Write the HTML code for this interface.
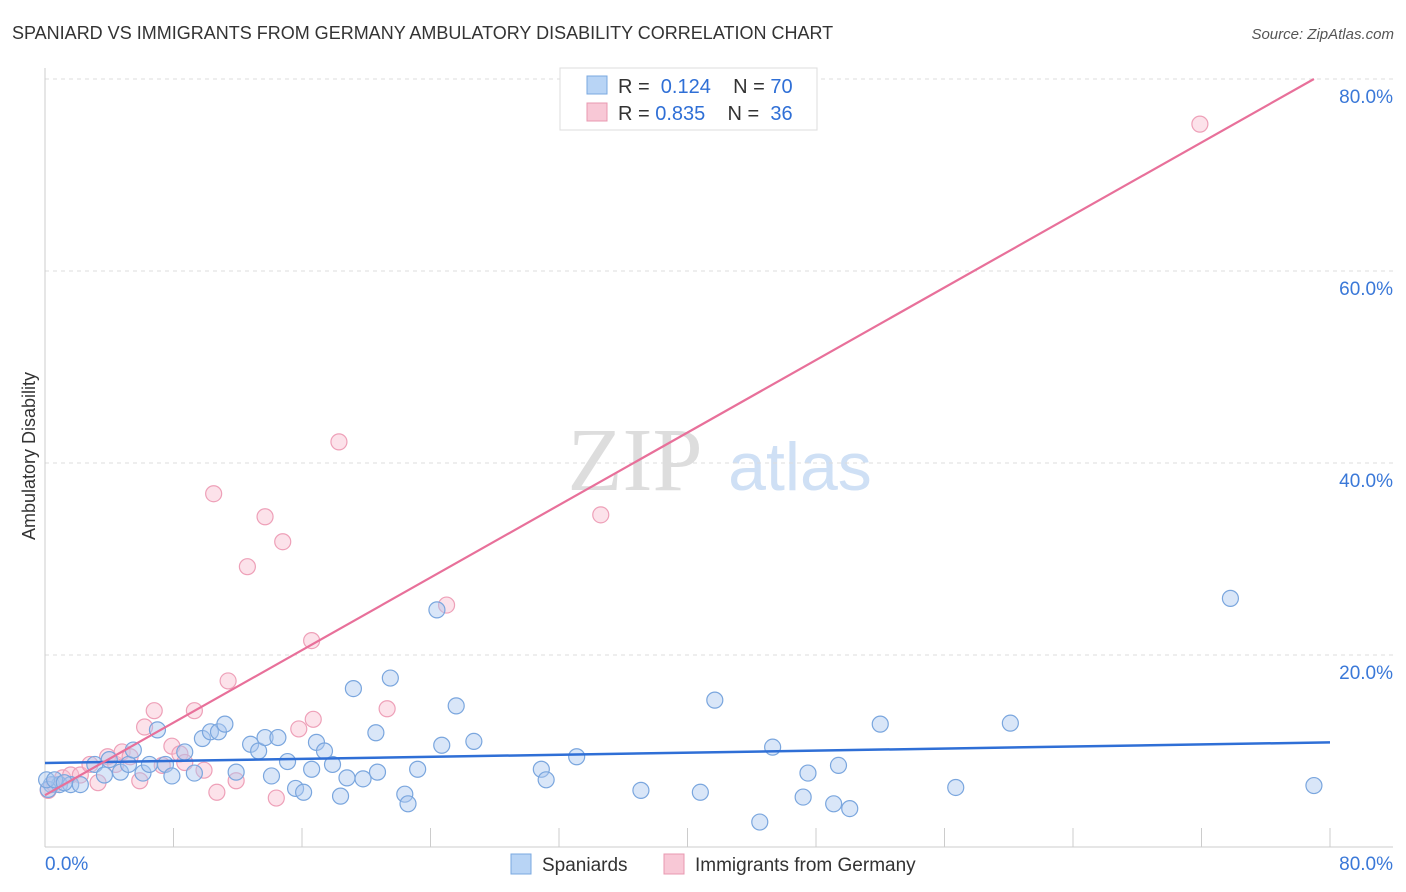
<!DOCTYPE html>
<html><head><meta charset="utf-8"><style>
body{margin:0;background:#fff;font-family:"Liberation Sans",sans-serif;}
#wrap{position:relative;width:1406px;height:892px;overflow:hidden;}
</style></head><body><div id="wrap">
<svg id="chart" width="1406" height="892" xmlns="http://www.w3.org/2000/svg">
<text x="12" y="39" font-size="18" fill="#333">SPANIARD VS IMMIGRANTS FROM GERMANY AMBULATORY DISABILITY CORRELATION CHART</text>
<text x="1394" y="39" font-size="15" fill="#555" font-style="italic" text-anchor="end">Source: ZipAtlas.com</text>
<text x="35" y="456" font-size="18" fill="#333" text-anchor="middle" transform="rotate(-90 35 456)">Ambulatory Disability</text>
<g><text x="635" y="490" font-size="90" fill="#ddd" font-family="Liberation Serif,serif" text-anchor="middle">ZIP</text><text x="800" y="490" font-size="68" fill="#cfe0f5" text-anchor="middle">atlas</text></g>
<g id="grid"></g><g id="axes"></g><g id="marks"></g>
<g>
<rect x="560" y="68" width="257" height="62" fill="#fff" stroke="#ddd"/>
<rect x="587" y="76" width="20" height="18" fill="#b8d4f5" stroke="#7aa8e0"/>
<rect x="587" y="103" width="20" height="18" fill="#f8c8d6" stroke="#e898b0"/>
<text x="618" y="93" font-size="20" fill="#333">R = <tspan fill="#2f6fd6">&#160;0.124</tspan>&#160;&#160;&#160;&#160;N = <tspan fill="#2f6fd6">70</tspan></text>
<text x="618" y="120" font-size="20" fill="#333">R = <tspan fill="#2f6fd6">0.835</tspan>&#160;&#160;&#160;&#160;N = <tspan fill="#2f6fd6">&#160;36</tspan></text>
</g>
<g>
<rect x="511" y="854" width="20" height="20" fill="#b8d4f5" stroke="#7aa8e0"/>
<text x="542" y="871" font-size="19" fill="#333">Spaniards</text>
<rect x="664" y="854" width="20" height="20" fill="#f8c8d6" stroke="#e898b0"/>
<text x="695" y="871" font-size="19" fill="#333">Immigrants from Germany</text>
</g>
</svg></div>
<script>
const blueX=[0.4,0.9,1.6,2.2,3.1,3.7,4.0,4.7,5.2,5.5,6.1,6.5,7.0,7.5,7.9,8.7,9.3,9.8,10.3,10.8,11.2,11.9,12.8,13.3,13.7,14.1,14.5,15.1,15.6,16.1,16.6,16.9,17.4,17.9,18.4,18.8,19.2,19.8,20.6,20.7,21.5,22.4,22.6,23.2,24.4,24.7,25.6,26.7,30.9,31.2,33.1,37.1,40.8,41.7,44.5,45.3,47.2,47.5,49.1,49.4,50.1,52.0,56.7,60.1,73.8,79.0,0.2,0.1,0.6,1.2];
const blueY=[6.5,6.5,6.5,6.5,8.6,7.5,9.1,7.8,8.6,10.1,7.7,8.6,12.2,8.6,7.4,9.9,7.7,11.3,12.0,12.0,12.8,7.8,10.7,10.0,11.4,7.4,11.4,8.9,6.1,5.7,8.1,10.9,10.0,8.6,5.3,7.2,16.5,7.1,11.9,7.8,17.6,5.5,4.5,8.1,24.7,10.6,14.7,11.0,8.1,7.0,9.4,5.9,5.7,15.3,2.6,10.4,5.2,7.7,4.5,8.5,4.0,12.8,6.2,12.9,25.9,6.4,6.0,7.0,7.0,6.7];
const pinkX=[0.2,0.6,1.1,1.6,2.2,2.8,3.3,3.9,4.4,4.8,5.3,5.9,6.2,6.8,7.3,7.9,8.4,8.7,9.3,9.9,10.5,10.7,11.4,11.9,12.6,13.7,14.4,14.8,15.8,16.6,16.7,18.3,21.3,25.0,34.6,71.9];
const pinkY=[5.9,6.5,7.2,7.5,7.5,8.6,6.7,9.4,8.6,9.9,9.4,6.9,12.5,14.2,8.5,10.5,9.7,8.8,14.2,8.0,36.8,5.7,17.3,6.9,29.2,34.4,5.1,31.8,12.3,21.5,13.3,42.2,14.4,25.2,34.6,75.3];
const trendBlue=[[0,8.75],[80,10.9]];
const trendPink=[[0,5.4],[79,80]];
const xTicks=[0,8,16,24,32,40,48,56,64,72,80];
const yTicks=[20,40,60,80];
const yTickLabels=["20.0%","40.0%","60.0%","80.0%"];
const NS="http://www.w3.org/2000/svg";
const X=v=>45+v*16.0625, Y=v=>847-v*9.6;
function mk(t,a,p){const e=document.createElementNS(NS,t);for(const k in a)e.setAttribute(k,a[k]);p.appendChild(e);return e;}
const grid=document.getElementById('grid'),axes=document.getElementById('axes'),marks=document.getElementById('marks');
yTicks.forEach((v,i)=>{const l=mk('line',{x1:45,x2:1393,y1:Y(v),y2:Y(v),stroke:'#ddd','stroke-dasharray':'4,4'},grid);


const t=mk('text',{x:1393,y:Y(v)+24,'font-size':19,fill:'#3a78d8','text-anchor':'end'},axes);t.textContent=yTickLabels[i];

});
const ax=mk('line',{x1:45,x2:45,y1:68,y2:847,stroke:'#ccc'},axes);


const bx=mk('line',{x1:45,x2:1393,y1:847,y2:847,stroke:'#ccc'},axes);


xTicks.forEach(v=>{const l=mk('line',{x1:X(v),x2:X(v),y1:828,y2:847,stroke:'#ccc'},axes);

});
[[0,'0.0%','start',45],[80,'80.0%','end',1393]].forEach(d=>{const t=mk('text',{x:d[3],y:870,'font-size':19,fill:'#3a78d8','text-anchor':d[2]},axes);t.textContent=d[1];

});
pinkX.forEach((v,i)=>{const c=mk('circle',{cx:X(v),cy:Y(pinkY[i]),r:8,fill:'rgba(248,190,208,0.45)',stroke:'#eea0b8','stroke-width':1.2},marks);

});
blueX.forEach((v,i)=>{const c=mk('circle',{cx:X(v),cy:Y(blueY[i]),r:8,fill:'rgba(170,200,240,0.45)',stroke:'#7aa6de','stroke-width':1.2},marks);

});
const tb=mk('line',{x1:X(trendBlue[0][0]),y1:Y(trendBlue[0][1]),x2:X(trendBlue[1][0]),y2:Y(trendBlue[1][1]),stroke:'#2f6fd6','stroke-width':2.5},marks);


const tp=mk('line',{x1:X(trendPink[0][0]),y1:Y(trendPink[0][1]),x2:X(trendPink[1][0]),y2:Y(trendPink[1][1]),stroke:'#e8709a','stroke-width':2.2},marks);


</script></body></html>
